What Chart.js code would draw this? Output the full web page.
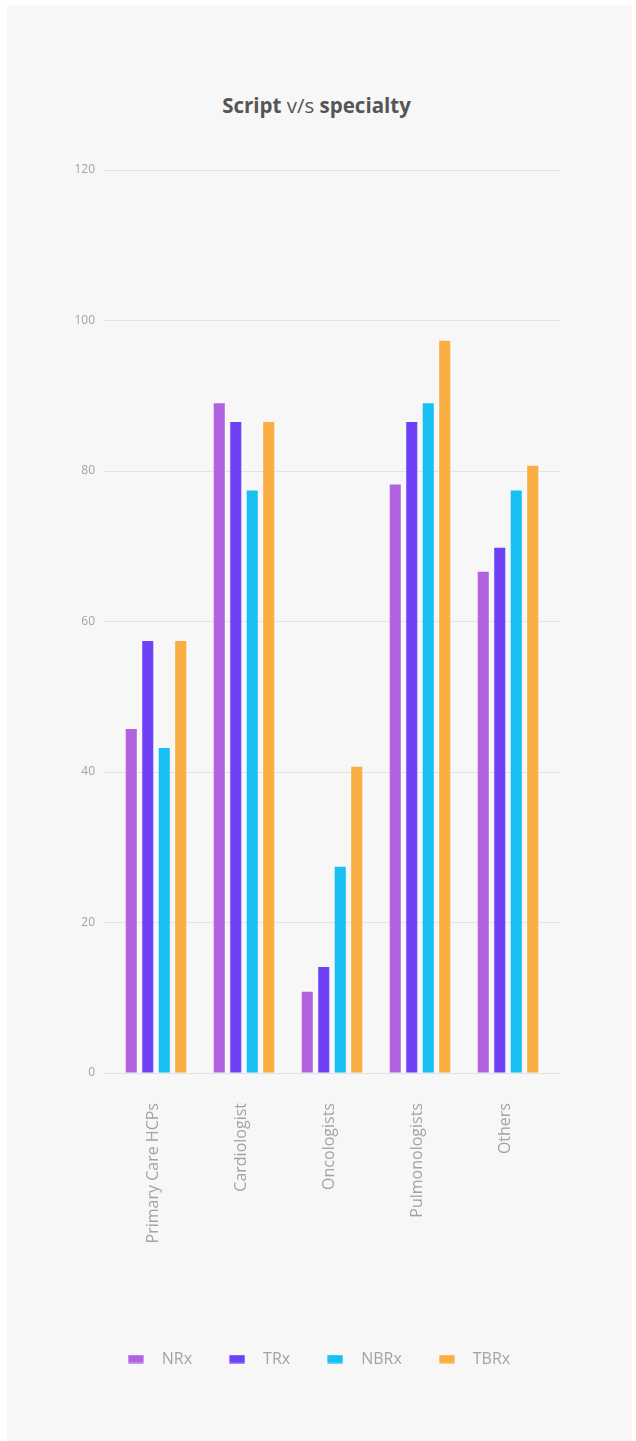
<!DOCTYPE html>
<html>
<head>
<meta charset="utf-8">
<script src="https://cdn.jsdelivr.net/npm/chart.js@4.4.0/dist/chart.umd.min.js"></script>
<style>
  html, body { margin: 0; padding: 0; background: #ffffff; }
  #panel { position: absolute; left: 7px; top: 5px; width: 625px; height: 1436px; background: #f7f7f7; }
  #title { position: absolute; left: -3px; top: 86px; width: 625px; text-align: center;
           font-family: "Open Sans", sans-serif; font-size: 20.5px; color: #555555; margin: 0; line-height: 28px; }
  #title b { font-weight: 700; }
  #title span { font-weight: 400; }
  #wrap { position: absolute; left: 0; top: 135px; width: 625px; height: 1265px; }
</style>
</head>
<body>
<div id="panel">
  <h2 id="title"><b>Script</b> <span>v/s</span> <b>specialty</b></h2>
  <div id="wrap"><canvas id="chart"></canvas></div>
</div>
<script>
// dados do gráfico
const categories = ['Primary Care HCPs', 'Cardiologist', 'Oncologists', 'Pulmonologists', 'Others'];
const nrx  = [45.7, 89.0, 10.8, 78.2, 66.6];
const trx  = [57.4, 86.5, 14.1, 86.5, 69.8];
const nbrx = [43.2, 77.4, 27.4, 89.0, 77.4];
const tbrx = [57.4, 86.5, 40.7, 97.3, 80.7];
const seriesNames = ['NRx', 'TRx', 'NBRx', 'TBRx'];
const seriesColors = ['#b163df', '#6e41f6', '#16c0f1', '#faad41'];
const yTicks = [0, 20, 40, 60, 80, 100, 120];

const gridColor = '#e3e3e3';
const labelColor = '#a3a3a3';

// caixinha da legenda (16x9)
function legendBox(color){
  const c = document.createElement('canvas');
  c.width = 16; c.height = 9;
  const ctx = c.getContext('2d');
  ctx.fillStyle = color; ctx.fillRect(0, 0, 16, 9);
  ctx.globalAlpha = 0.35; ctx.fillStyle = '#ffffff';
  ctx.fillRect(0, 0, 16, 1); ctx.fillRect(0, 8, 16, 1); ctx.fillRect(0, 0, 1, 9); ctx.fillRect(15, 0, 1, 9);
  return c;
}
const boxes = seriesColors.map(legendBox);

const values = [nrx, trx, nbrx, tbrx];
const datasets = seriesNames.map((name, i) => ({
  label: name,
  data: values[i],
  backgroundColor: seriesColors[i],
  borderWidth: 0,
  categoryPercentage: 0.75,
  barPercentage: 0.67
}));

new Chart(document.getElementById('chart'), {
  type: 'bar',
  data: { labels: categories, datasets },
  options: {
    responsive: true,
    maintainAspectRatio: false,
    animation: false,
    layout: { padding: { left: 61, right: 72, top: 30, bottom: 28 } },
    plugins: {
      title: { display: false },
      tooltip: { enabled: false },
      legend: {
        position: 'bottom',
        labels: {
          usePointStyle: true,
          pointStyleWidth: 36,
          padding: 27,
          color: labelColor,
          font: { family: 'Open Sans', size: 16 },
          generateLabels(chart){
            const items = Chart.defaults.plugins.legend.labels.generateLabels(chart);
            items.forEach((it, i) => { it.pointStyle = boxes[i]; });
            return items;
          }
        }
      }
    },
    scales: {
      x: {
        grid: { display: false },
        border: { display: false },
        ticks: {
          minRotation: 90, maxRotation: 90, padding: 22, labelOffset: -3,
          color: labelColor,
          font: { family: 'Open Sans', size: 16 }
        },
        afterFit(s){ s.height = 251; }
      },
      y: {
        min: 0, max: 120,
        afterBuildTicks(s){ s.ticks = yTicks.map(v => ({ value: v })); },
        grid: { color: gridColor, lineWidth: 1, tickLength: 8, drawTicks: true },
        border: { display: false },
        ticks: { padding: 9, color: labelColor, font: { family: 'Open Sans', size: 12 } },
        afterFit(s){ s.width = 44; }
      },
      y2: {
        position: 'right',
        min: 0, max: 120,
        afterBuildTicks(s){ s.ticks = yTicks.map(v => ({ value: v })); },
        grid: { color: gridColor, drawOnChartArea: false, drawTicks: true, tickLength: 8 },
        border: { display: false },
        ticks: { display: false },
        afterFit(s){ s.width = 8; }
      }
    }
  }
});
</script>
</body>
</html>
